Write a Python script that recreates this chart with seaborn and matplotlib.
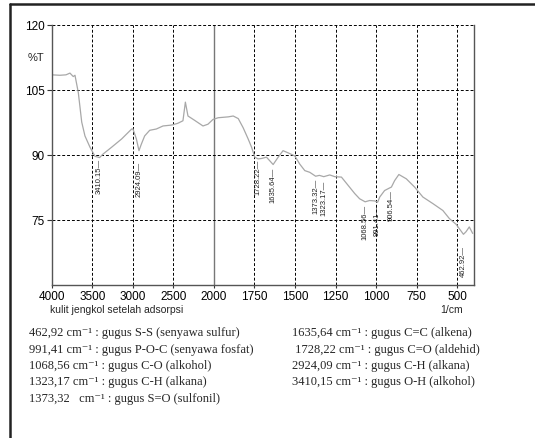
import numpy as np
import matplotlib
matplotlib.use("Agg")
import matplotlib.pyplot as plt
import seaborn as sns
from matplotlib.lines import Line2D

# spectrum trace (wavenumber 1/cm, %T)
wavenumber = [4000, 3898, 3824, 3775, 3734, 3713, 3672, 3630, 3590, 3528, 3466, 3410,
              3368, 3261, 3138, 3014, 2998, 2956, 2924, 2895, 2854, 2792, 2710, 2628,
              2525, 2447, 2382, 2352, 2320, 2238, 2135, 2074, 2012, 1974, 1912, 1881,
              1850, 1820, 1789, 1768, 1748, 1728, 1706, 1676, 1635, 1604, 1574, 1543,
              1502, 1471, 1440, 1409, 1373, 1350, 1323, 1286, 1255, 1214, 1173, 1132,
              1102, 1068, 1040, 1009, 991, 978, 948, 917, 906, 886, 860, 814, 763, 712,
              651, 589, 548, 507, 462, 446, 426, 405]
transmit = [108.5, 108.4, 108.5, 108.9, 108.1, 108.4, 104.4, 97.6, 94.4, 91.8, 89.7, 89.4,
            90.2, 91.8, 93.7, 96.0, 96.0, 93.7, 91.0, 92.5, 94.4, 95.7, 96.0, 96.7,
            96.9, 97.3, 97.9, 102.2, 99.0, 98.0, 96.7, 97.1, 98.2, 98.6, 98.8, 99.0,
            98.4, 96.3, 93.7, 91.8, 89.5, 89.1, 89.2, 89.5, 87.8, 89.5, 91.0, 90.5,
            89.8, 87.9, 86.4, 86.0, 85.1, 85.3, 85.0, 85.4, 85.0, 84.9, 83.0, 81.1,
            79.9, 79.2, 79.5, 79.4, 79.1, 80.3, 81.8, 82.4, 82.6, 84.1, 85.5, 84.5,
            82.6, 80.3, 78.8, 77.2, 75.3, 74.0, 71.7, 72.3, 73.4, 71.9]

peak_pos = [3410.15, 2924.09, 1728.22, 1635.64, 1373.32, 1323.17, 1068.56, 991.41, 906.54, 462.92]
peak_text = ["3410.15", "2924.09", "1728.22", "1635.64", "1373.32", "1323.17",
             "1068.56", "991.41", "906.54", "462.92"]
peak_label_T = [89.1, 88.4, 88.9, 87.0, 84.5, 84.1, 78.4, 78.4, 81.8, 68.9]

xticks = [4000, 3500, 3000, 2500, 2000, 1750, 1500, 1250, 1000, 750, 500]
yticks = [75, 90, 105, 120]
ytick_labels = ["75", "90", "105", "120"]

notes_left = [
    "462,92 cm\u207b\u00b9 : gugus S-S (senyawa sulfur)",
    "991,41 cm\u207b\u00b9 : gugus P-O-C (senyawa fosfat)",
    "1068,56 cm\u207b\u00b9 : gugus C-O (alkohol)",
    "1323,17 cm\u207b\u00b9 : gugus C-H (alkana)",
    "1373,32   cm\u207b\u00b9 : gugus S=O (sulfonil)",
]
notes_right = [
    "1635,64 cm\u207b\u00b9 : gugus C=C (alkena)",
    " 1728,22 cm\u207b\u00b9 : gugus C=O (aldehid)",
    "2924,09 cm\u207b\u00b9 : gugus C-H (alkana)",
    "3410,15 cm\u207b\u00b9 : gugus O-H (alkohol)",
]

sns.set_style("white")
plt.rcParams['font.family'] = ['Liberation Sans', 'DejaVu Sans']

W, H = 535, 438
fig = plt.figure(figsize=(W / 100, H / 100), dpi=100)
ax = fig.add_axes([51.7 / W, 1 - 285 / H, (473.5 - 51.7) / W, (285 - 25) / H])


# scale doubles below 2000 1/cm like the instrument printout
def fwd(x):
    x = np.asarray(x, dtype=float)
    return np.where(x >= 2000, x, 2 * x - 2000)


def inv(y):
    y = np.asarray(y, dtype=float)
    return np.where(y >= 2000, y, (y + 2000) / 2)


ax.set_xscale('function', functions=(fwd, inv))

sns.lineplot(x=wavenumber, y=transmit, ax=ax, color='#a8a8a8', linewidth=0.9, sort=False)

ax.set_xlim(4000, 400)
ax.set_ylim(60, 120)
ax.set_xticks(xticks)
ax.set_xticklabels([str(t) for t in xticks])
ax.set_yticks(yticks)
ax.set_yticklabels(ytick_labels)
ax.tick_params(axis='both', direction='out', length=3.5, width=0.8, colors='#333333',
               labelsize=8.5, labelcolor='black', pad=1.5)
ax.tick_params(axis='x', length=2.5)
ax.tick_params(bottom=True, left=True)

for t in xticks[1:]:
    if t == 2000:
        ax.axvline(t, color='#777777', lw=1.0, zorder=0)
    else:
        ax.axvline(t, color='black', lw=0.7, ls=(0, (3, 2)), zorder=0)
for t in yticks:
    ax.axhline(t, color='black', lw=0.7, ls=(0, (3, 2)), zorder=0, clip_on=False)

ax.spines['top'].set_visible(False)
for s in ['left', 'right', 'bottom']:
    ax.spines[s].set_color('#555555')
    ax.spines[s].set_linewidth(1.0)

for pos, txt, ty in zip(peak_pos, peak_text, peak_label_T):
    ax.text(pos, ty, txt + "\u2014", rotation=90, ha='center', va='top',
            fontsize=5.5, color='#222222')

ax.set_xlabel("")
ax.set_ylabel("")
fig.text(28 / W, 1 - 58 / H, "%T", fontsize=8, ha='left', va='center')
fig.text(50 / W, 1 - 310 / H, "kulit jengkol setelah adsorpsi", fontsize=7.5,
         ha='left', va='center')
fig.text(463 / W, 1 - 310 / H, "1/cm", fontsize=7.5, ha='right', va='center')

serif = ['Liberation Serif', 'DejaVu Serif']
rows_y = [333, 350, 366, 382, 399]
for yy, s in zip(rows_y, notes_left):
    fig.text(29 / W, 1 - yy / H, s, fontsize=9, family=serif,
             ha='left', va='center')
for yy, s in zip(rows_y, notes_right):
    fig.text(292 / W, 1 - yy / H, s, fontsize=9, family=serif,
             ha='left', va='center')

# page frame
fig.add_artist(Line2D([10 / W, 1], [1 - 4 / H, 1 - 4 / H], color='#222222', lw=1.8))
fig.add_artist(Line2D([10 / W, 10 / W], [0, 1 - 4 / H], color='#222222', lw=1.8))

fig.savefig("out.png", dpi=100)
